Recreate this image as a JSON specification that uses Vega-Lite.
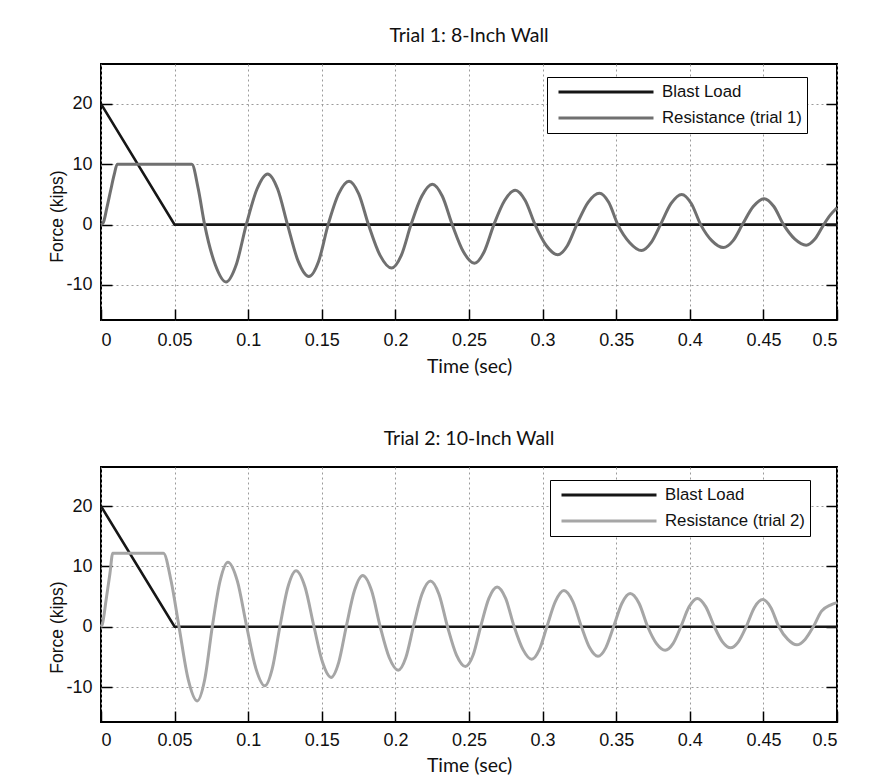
{
  "$schema": "https://vega.github.io/schema/vega-lite/v6.json",
  "background": "white",
  "padding": {"left": 47, "top": 24, "right": 5, "bottom": 5},
  "datasets": {
    "t1": [
      {"s": "Blast Load", "t": 0, "f": 20},
      {"s": "Blast Load", "t": 0.05, "f": 0},
      {"s": "Blast Load", "t": 0.5, "f": 0},
      {"s": "Resistance (trial 1)", "t": 0, "f": 0},
      {"s": "Resistance (trial 1)", "t": 0.0015, "f": 0.3},
      {"s": "Resistance (trial 1)", "t": 0.004, "f": 2.8},
      {"s": "Resistance (trial 1)", "t": 0.0065, "f": 5.6},
      {"s": "Resistance (trial 1)", "t": 0.009, "f": 8.3},
      {"s": "Resistance (trial 1)", "t": 0.011, "f": 10},
      {"s": "Resistance (trial 1)", "t": 0.0617, "f": 10},
      {"s": "Resistance (trial 1)", "t": 0.066, "f": 6.0},
      {"s": "Resistance (trial 1)", "t": 0.0704, "f": 0},
      {"s": "Resistance (trial 1)", "t": 0.0777, "f": -6.7},
      {"s": "Resistance (trial 1)", "t": 0.0849, "f": -9.5},
      {"s": "Resistance (trial 1)", "t": 0.0918, "f": -6.7},
      {"s": "Resistance (trial 1)", "t": 0.0987, "f": 0},
      {"s": "Resistance (trial 1)", "t": 0.106, "f": 5.9},
      {"s": "Resistance (trial 1)", "t": 0.1132, "f": 8.4},
      {"s": "Resistance (trial 1)", "t": 0.12, "f": 5.9},
      {"s": "Resistance (trial 1)", "t": 0.1267, "f": 0},
      {"s": "Resistance (trial 1)", "t": 0.134, "f": -6.1},
      {"s": "Resistance (trial 1)", "t": 0.1412, "f": -8.6},
      {"s": "Resistance (trial 1)", "t": 0.1478, "f": -6.1},
      {"s": "Resistance (trial 1)", "t": 0.1543, "f": 0},
      {"s": "Resistance (trial 1)", "t": 0.1614, "f": 5.1},
      {"s": "Resistance (trial 1)", "t": 0.1685, "f": 7.2},
      {"s": "Resistance (trial 1)", "t": 0.1751, "f": 5.1},
      {"s": "Resistance (trial 1)", "t": 0.1817, "f": 0},
      {"s": "Resistance (trial 1)", "t": 0.1896, "f": -5.1},
      {"s": "Resistance (trial 1)", "t": 0.1974, "f": -7.2},
      {"s": "Resistance (trial 1)", "t": 0.204, "f": -5.1},
      {"s": "Resistance (trial 1)", "t": 0.2106, "f": 0},
      {"s": "Resistance (trial 1)", "t": 0.2179, "f": 4.7},
      {"s": "Resistance (trial 1)", "t": 0.2251, "f": 6.7},
      {"s": "Resistance (trial 1)", "t": 0.2319, "f": 4.7},
      {"s": "Resistance (trial 1)", "t": 0.2386, "f": 0},
      {"s": "Resistance (trial 1)", "t": 0.2462, "f": -4.5},
      {"s": "Resistance (trial 1)", "t": 0.2537, "f": -6.4},
      {"s": "Resistance (trial 1)", "t": 0.2603, "f": -4.5},
      {"s": "Resistance (trial 1)", "t": 0.2669, "f": 0},
      {"s": "Resistance (trial 1)", "t": 0.2742, "f": 4.0},
      {"s": "Resistance (trial 1)", "t": 0.2814, "f": 5.7},
      {"s": "Resistance (trial 1)", "t": 0.2882, "f": 4.0},
      {"s": "Resistance (trial 1)", "t": 0.2949, "f": 0},
      {"s": "Resistance (trial 1)", "t": 0.3026, "f": -3.5},
      {"s": "Resistance (trial 1)", "t": 0.3103, "f": -5.0},
      {"s": "Resistance (trial 1)", "t": 0.3168, "f": -3.5},
      {"s": "Resistance (trial 1)", "t": 0.3232, "f": 0},
      {"s": "Resistance (trial 1)", "t": 0.3309, "f": 3.7},
      {"s": "Resistance (trial 1)", "t": 0.3386, "f": 5.2},
      {"s": "Resistance (trial 1)", "t": 0.3449, "f": 3.7},
      {"s": "Resistance (trial 1)", "t": 0.3511, "f": 0},
      {"s": "Resistance (trial 1)", "t": 0.3592, "f": -3.0},
      {"s": "Resistance (trial 1)", "t": 0.3672, "f": -4.3},
      {"s": "Resistance (trial 1)", "t": 0.3737, "f": -3.0},
      {"s": "Resistance (trial 1)", "t": 0.3801, "f": 0},
      {"s": "Resistance (trial 1)", "t": 0.3873, "f": 3.5},
      {"s": "Resistance (trial 1)", "t": 0.3945, "f": 5.0},
      {"s": "Resistance (trial 1)", "t": 0.401, "f": 3.5},
      {"s": "Resistance (trial 1)", "t": 0.4074, "f": 0},
      {"s": "Resistance (trial 1)", "t": 0.4151, "f": -2.7},
      {"s": "Resistance (trial 1)", "t": 0.4228, "f": -3.8},
      {"s": "Resistance (trial 1)", "t": 0.4293, "f": -2.7},
      {"s": "Resistance (trial 1)", "t": 0.4357, "f": 0},
      {"s": "Resistance (trial 1)", "t": 0.4431, "f": 3.0},
      {"s": "Resistance (trial 1)", "t": 0.4505, "f": 4.3},
      {"s": "Resistance (trial 1)", "t": 0.4571, "f": 3.0},
      {"s": "Resistance (trial 1)", "t": 0.4637, "f": 0},
      {"s": "Resistance (trial 1)", "t": 0.4714, "f": -2.4},
      {"s": "Resistance (trial 1)", "t": 0.4791, "f": -3.4},
      {"s": "Resistance (trial 1)", "t": 0.485, "f": -2.4},
      {"s": "Resistance (trial 1)", "t": 0.491, "f": 0},
      {"s": "Resistance (trial 1)", "t": 0.4955, "f": 1.6},
      {"s": "Resistance (trial 1)", "t": 0.5, "f": 2.8}
    ],
    "t2": [
      {"s": "Blast Load", "t": 0, "f": 20},
      {"s": "Blast Load", "t": 0.05, "f": 0},
      {"s": "Blast Load", "t": 0.5, "f": 0},
      {"s": "Resistance (trial 2)", "t": 0, "f": 0},
      {"s": "Resistance (trial 2)", "t": 0.001, "f": 0.5},
      {"s": "Resistance (trial 2)", "t": 0.0035, "f": 4.5},
      {"s": "Resistance (trial 2)", "t": 0.006, "f": 8.7},
      {"s": "Resistance (trial 2)", "t": 0.008, "f": 12.2},
      {"s": "Resistance (trial 2)", "t": 0.0424, "f": 12.2},
      {"s": "Resistance (trial 2)", "t": 0.0477, "f": 7.5},
      {"s": "Resistance (trial 2)", "t": 0.053, "f": 0},
      {"s": "Resistance (trial 2)", "t": 0.0592, "f": -8.7},
      {"s": "Resistance (trial 2)", "t": 0.0653, "f": -12.3},
      {"s": "Resistance (trial 2)", "t": 0.0705, "f": -8.7},
      {"s": "Resistance (trial 2)", "t": 0.0756, "f": 0},
      {"s": "Resistance (trial 2)", "t": 0.0809, "f": 7.6},
      {"s": "Resistance (trial 2)", "t": 0.0862, "f": 10.7},
      {"s": "Resistance (trial 2)", "t": 0.0926, "f": 7.6},
      {"s": "Resistance (trial 2)", "t": 0.099, "f": 0},
      {"s": "Resistance (trial 2)", "t": 0.1052, "f": -6.9},
      {"s": "Resistance (trial 2)", "t": 0.1113, "f": -9.8},
      {"s": "Resistance (trial 2)", "t": 0.1164, "f": -6.9},
      {"s": "Resistance (trial 2)", "t": 0.1215, "f": 0},
      {"s": "Resistance (trial 2)", "t": 0.127, "f": 6.6},
      {"s": "Resistance (trial 2)", "t": 0.1325, "f": 9.3},
      {"s": "Resistance (trial 2)", "t": 0.1386, "f": 6.6},
      {"s": "Resistance (trial 2)", "t": 0.1447, "f": 0},
      {"s": "Resistance (trial 2)", "t": 0.1505, "f": -5.9},
      {"s": "Resistance (trial 2)", "t": 0.1563, "f": -8.4},
      {"s": "Resistance (trial 2)", "t": 0.1615, "f": -5.9},
      {"s": "Resistance (trial 2)", "t": 0.1666, "f": 0},
      {"s": "Resistance (trial 2)", "t": 0.1722, "f": 6.0},
      {"s": "Resistance (trial 2)", "t": 0.1778, "f": 8.5},
      {"s": "Resistance (trial 2)", "t": 0.1838, "f": 6.0},
      {"s": "Resistance (trial 2)", "t": 0.1897, "f": 0},
      {"s": "Resistance (trial 2)", "t": 0.1958, "f": -5.1},
      {"s": "Resistance (trial 2)", "t": 0.2019, "f": -7.2},
      {"s": "Resistance (trial 2)", "t": 0.2071, "f": -5.1},
      {"s": "Resistance (trial 2)", "t": 0.2122, "f": 0},
      {"s": "Resistance (trial 2)", "t": 0.218, "f": 5.4},
      {"s": "Resistance (trial 2)", "t": 0.2238, "f": 7.6},
      {"s": "Resistance (trial 2)", "t": 0.2296, "f": 5.4},
      {"s": "Resistance (trial 2)", "t": 0.2354, "f": 0},
      {"s": "Resistance (trial 2)", "t": 0.2415, "f": -4.7},
      {"s": "Resistance (trial 2)", "t": 0.2476, "f": -6.6},
      {"s": "Resistance (trial 2)", "t": 0.2528, "f": -4.7},
      {"s": "Resistance (trial 2)", "t": 0.2579, "f": 0},
      {"s": "Resistance (trial 2)", "t": 0.2635, "f": 4.7},
      {"s": "Resistance (trial 2)", "t": 0.2691, "f": 6.6},
      {"s": "Resistance (trial 2)", "t": 0.2749, "f": 4.7},
      {"s": "Resistance (trial 2)", "t": 0.2807, "f": 0},
      {"s": "Resistance (trial 2)", "t": 0.2867, "f": -3.8},
      {"s": "Resistance (trial 2)", "t": 0.2926, "f": -5.4},
      {"s": "Resistance (trial 2)", "t": 0.2978, "f": -3.8},
      {"s": "Resistance (trial 2)", "t": 0.3029, "f": 0},
      {"s": "Resistance (trial 2)", "t": 0.3087, "f": 4.2},
      {"s": "Resistance (trial 2)", "t": 0.3145, "f": 6.0},
      {"s": "Resistance (trial 2)", "t": 0.3205, "f": 4.2},
      {"s": "Resistance (trial 2)", "t": 0.3264, "f": 0},
      {"s": "Resistance (trial 2)", "t": 0.332, "f": -3.5},
      {"s": "Resistance (trial 2)", "t": 0.3376, "f": -4.9},
      {"s": "Resistance (trial 2)", "t": 0.3429, "f": -3.5},
      {"s": "Resistance (trial 2)", "t": 0.3482, "f": 0},
      {"s": "Resistance (trial 2)", "t": 0.3539, "f": 3.9},
      {"s": "Resistance (trial 2)", "t": 0.3595, "f": 5.5},
      {"s": "Resistance (trial 2)", "t": 0.3655, "f": 3.9},
      {"s": "Resistance (trial 2)", "t": 0.3714, "f": 0},
      {"s": "Resistance (trial 2)", "t": 0.3774, "f": -2.8},
      {"s": "Resistance (trial 2)", "t": 0.3833, "f": -3.9},
      {"s": "Resistance (trial 2)", "t": 0.3886, "f": -2.8},
      {"s": "Resistance (trial 2)", "t": 0.3939, "f": 0},
      {"s": "Resistance (trial 2)", "t": 0.3995, "f": 3.3},
      {"s": "Resistance (trial 2)", "t": 0.4051, "f": 4.7},
      {"s": "Resistance (trial 2)", "t": 0.4109, "f": 3.3},
      {"s": "Resistance (trial 2)", "t": 0.4167, "f": 0},
      {"s": "Resistance (trial 2)", "t": 0.4222, "f": -2.5},
      {"s": "Resistance (trial 2)", "t": 0.4277, "f": -3.5},
      {"s": "Resistance (trial 2)", "t": 0.433, "f": -2.5},
      {"s": "Resistance (trial 2)", "t": 0.4383, "f": 0},
      {"s": "Resistance (trial 2)", "t": 0.4439, "f": 3.2},
      {"s": "Resistance (trial 2)", "t": 0.4495, "f": 4.5},
      {"s": "Resistance (trial 2)", "t": 0.455, "f": 3.2},
      {"s": "Resistance (trial 2)", "t": 0.4605, "f": 0},
      {"s": "Resistance (trial 2)", "t": 0.4666, "f": -2.1},
      {"s": "Resistance (trial 2)", "t": 0.4727, "f": -3.0},
      {"s": "Resistance (trial 2)", "t": 0.4783, "f": -2.1},
      {"s": "Resistance (trial 2)", "t": 0.4839, "f": 0},
      {"s": "Resistance (trial 2)", "t": 0.4895, "f": 2.6},
      {"s": "Resistance (trial 2)", "t": 0.4955, "f": 3.6},
      {"s": "Resistance (trial 2)", "t": 0.5, "f": 4.0}
    ]
  },
  "spacing": 50,
  "resolve": {"scale": {"color": "independent"}, "legend": {"color": "independent"}},
  "vconcat": [
    {
      "title": {"text": "Trial 1: 8-Inch Wall"},
      "width": 736,
      "height": 256,
      "data": {"name": "t1"},
      "encoding": {
        "x": {"field": "t", "type": "quantitative", "title": "Time (sec)",
              "scale": {"domain": [0, 0.5], "nice": false},
              "axis": {"values": [0, 0.05, 0.1, 0.15, 0.2, 0.25, 0.3, 0.35, 0.4, 0.45, 0.5], "format": "~g",
                       "labelFont": "Liberation Sans", "labelFontSize": 18, "labelPadding": 22,
                       "titleFont": "Lato", "titleFontSize": 19.5, "titleFontWeight": "normal", "titlePadding": 8}},
        "color": {"field": "s", "type": "nominal",
                  "scale": {"domain": ["Blast Load", "Resistance (trial 1)"], "range": ["#161616", "#707070"]},
                  "legend": {"legendX": 446, "legendY": 13}}
      },
      "resolve": {"axis": {"y": "independent"}},
      "layer": [
        {
          "transform": [{"filter": "datum.s == 'Blast Load'"}],
          "mark": {"type": "line", "strokeWidth": 2.6},
          "encoding": {
            "y": {"field": "f", "type": "quantitative", "title": "Force (kips)",
                  "scale": {"domain": [-15.8, 26.6], "nice": false, "zero": false},
                  "axis": {"values": [-10, 0, 10, 20], "labelExpr": "replace(datum.label, '−', '-')",
                           "labelFont": "Liberation Sans", "labelFontSize": 18, "labelPadding": 20,
                           "titleFont": "Liberation Sans", "titleFontSize": 17.5, "titleFontWeight": "normal",
                           "titlePadding": -1, "titleY": 152}}
          }
        },
        {
          "transform": [{"filter": "datum.s != 'Blast Load'"}],
          "mark": {"type": "line", "interpolate": "monotone", "strokeWidth": 3},
          "encoding": {
            "y": {"field": "f", "type": "quantitative",
                  "scale": {"domain": [-15.8, 26.6], "nice": false, "zero": false},
                  "axis": {"orient": "right", "values": [-10, 0, 10, 20], "labels": false, "title": null, "grid": false}}
          }
        }
      ]
    },
    {
      "title": {"text": "Trial 2: 10-Inch Wall"},
      "width": 736,
      "height": 255,
      "data": {"name": "t2"},
      "encoding": {
        "x": {"field": "t", "type": "quantitative", "title": "Time (sec)",
              "scale": {"domain": [0, 0.5], "nice": false},
              "axis": {"values": [0, 0.05, 0.1, 0.15, 0.2, 0.25, 0.3, 0.35, 0.4, 0.45, 0.5], "format": "~g",
                       "labelFont": "Liberation Sans", "labelFontSize": 18, "labelPadding": 20,
                       "titleFont": "Lato", "titleFontSize": 19.5, "titleFontWeight": "normal", "titlePadding": 7}},
        "color": {"field": "s", "type": "nominal",
                  "scale": {"domain": ["Blast Load", "Resistance (trial 2)"], "range": ["#161616", "#a6a6a6"]},
                  "legend": {"legendX": 449, "legendY": 13}}
      },
      "resolve": {"axis": {"y": "independent"}},
      "layer": [
        {
          "transform": [{"filter": "datum.s == 'Blast Load'"}],
          "mark": {"type": "line", "strokeWidth": 2.6},
          "encoding": {
            "y": {"field": "f", "type": "quantitative", "title": "Force (kips)",
                  "scale": {"domain": [-15.8, 26.5], "nice": false, "zero": false},
                  "axis": {"values": [-10, 0, 10, 20], "labelExpr": "replace(datum.label, '−', '-')",
                           "labelFont": "Liberation Sans", "labelFontSize": 18, "labelPadding": 20,
                           "titleFont": "Liberation Sans", "titleFontSize": 17.5, "titleFontWeight": "normal",
                           "titlePadding": -1, "titleY": 160}}
          }
        },
        {
          "transform": [{"filter": "datum.s != 'Blast Load'"}],
          "mark": {"type": "line", "interpolate": "monotone", "strokeWidth": 3},
          "encoding": {
            "y": {"field": "f", "type": "quantitative",
                  "scale": {"domain": [-15.8, 26.5], "nice": false, "zero": false},
                  "axis": {"orient": "right", "values": [-10, 0, 10, 20], "labels": false, "title": null, "grid": false}}
          }
        }
      ]
    }
  ],
  "config": {
    "view": {"stroke": "#000", "strokeWidth": 2},
    "title": {"font": "Lato", "fontSize": 19.5, "fontWeight": "normal", "color": "#111", "offset": 18},
    "axis": {
      "domain": false,
      "tickColor": "#000",
      "tickWidth": 1.5,
      "tickSize": -11,
      "labelColor": "#111",
      "titleColor": "#111",
      "gridColor": "#9a9a9a",
      "gridDash": [2, 3],
      "gridWidth": 1
    },
    "legend": {
      "orient": "none",
      "title": null,
      "symbolType": "stroke",
      "symbolSize": 9025,
      "symbolStrokeWidth": 3,
      "clipHeight": 20,
      "padding": 5,
      "rowPadding": 6,
      "symbolOffset": 5,
      "labelOffset": 7,
      "strokeColor": "#000",
      "fillColor": "#fff",
      "labelFont": "Liberation Sans",
      "labelFontSize": 16.8,
      "labelColor": "#111"
    }
  }
}
